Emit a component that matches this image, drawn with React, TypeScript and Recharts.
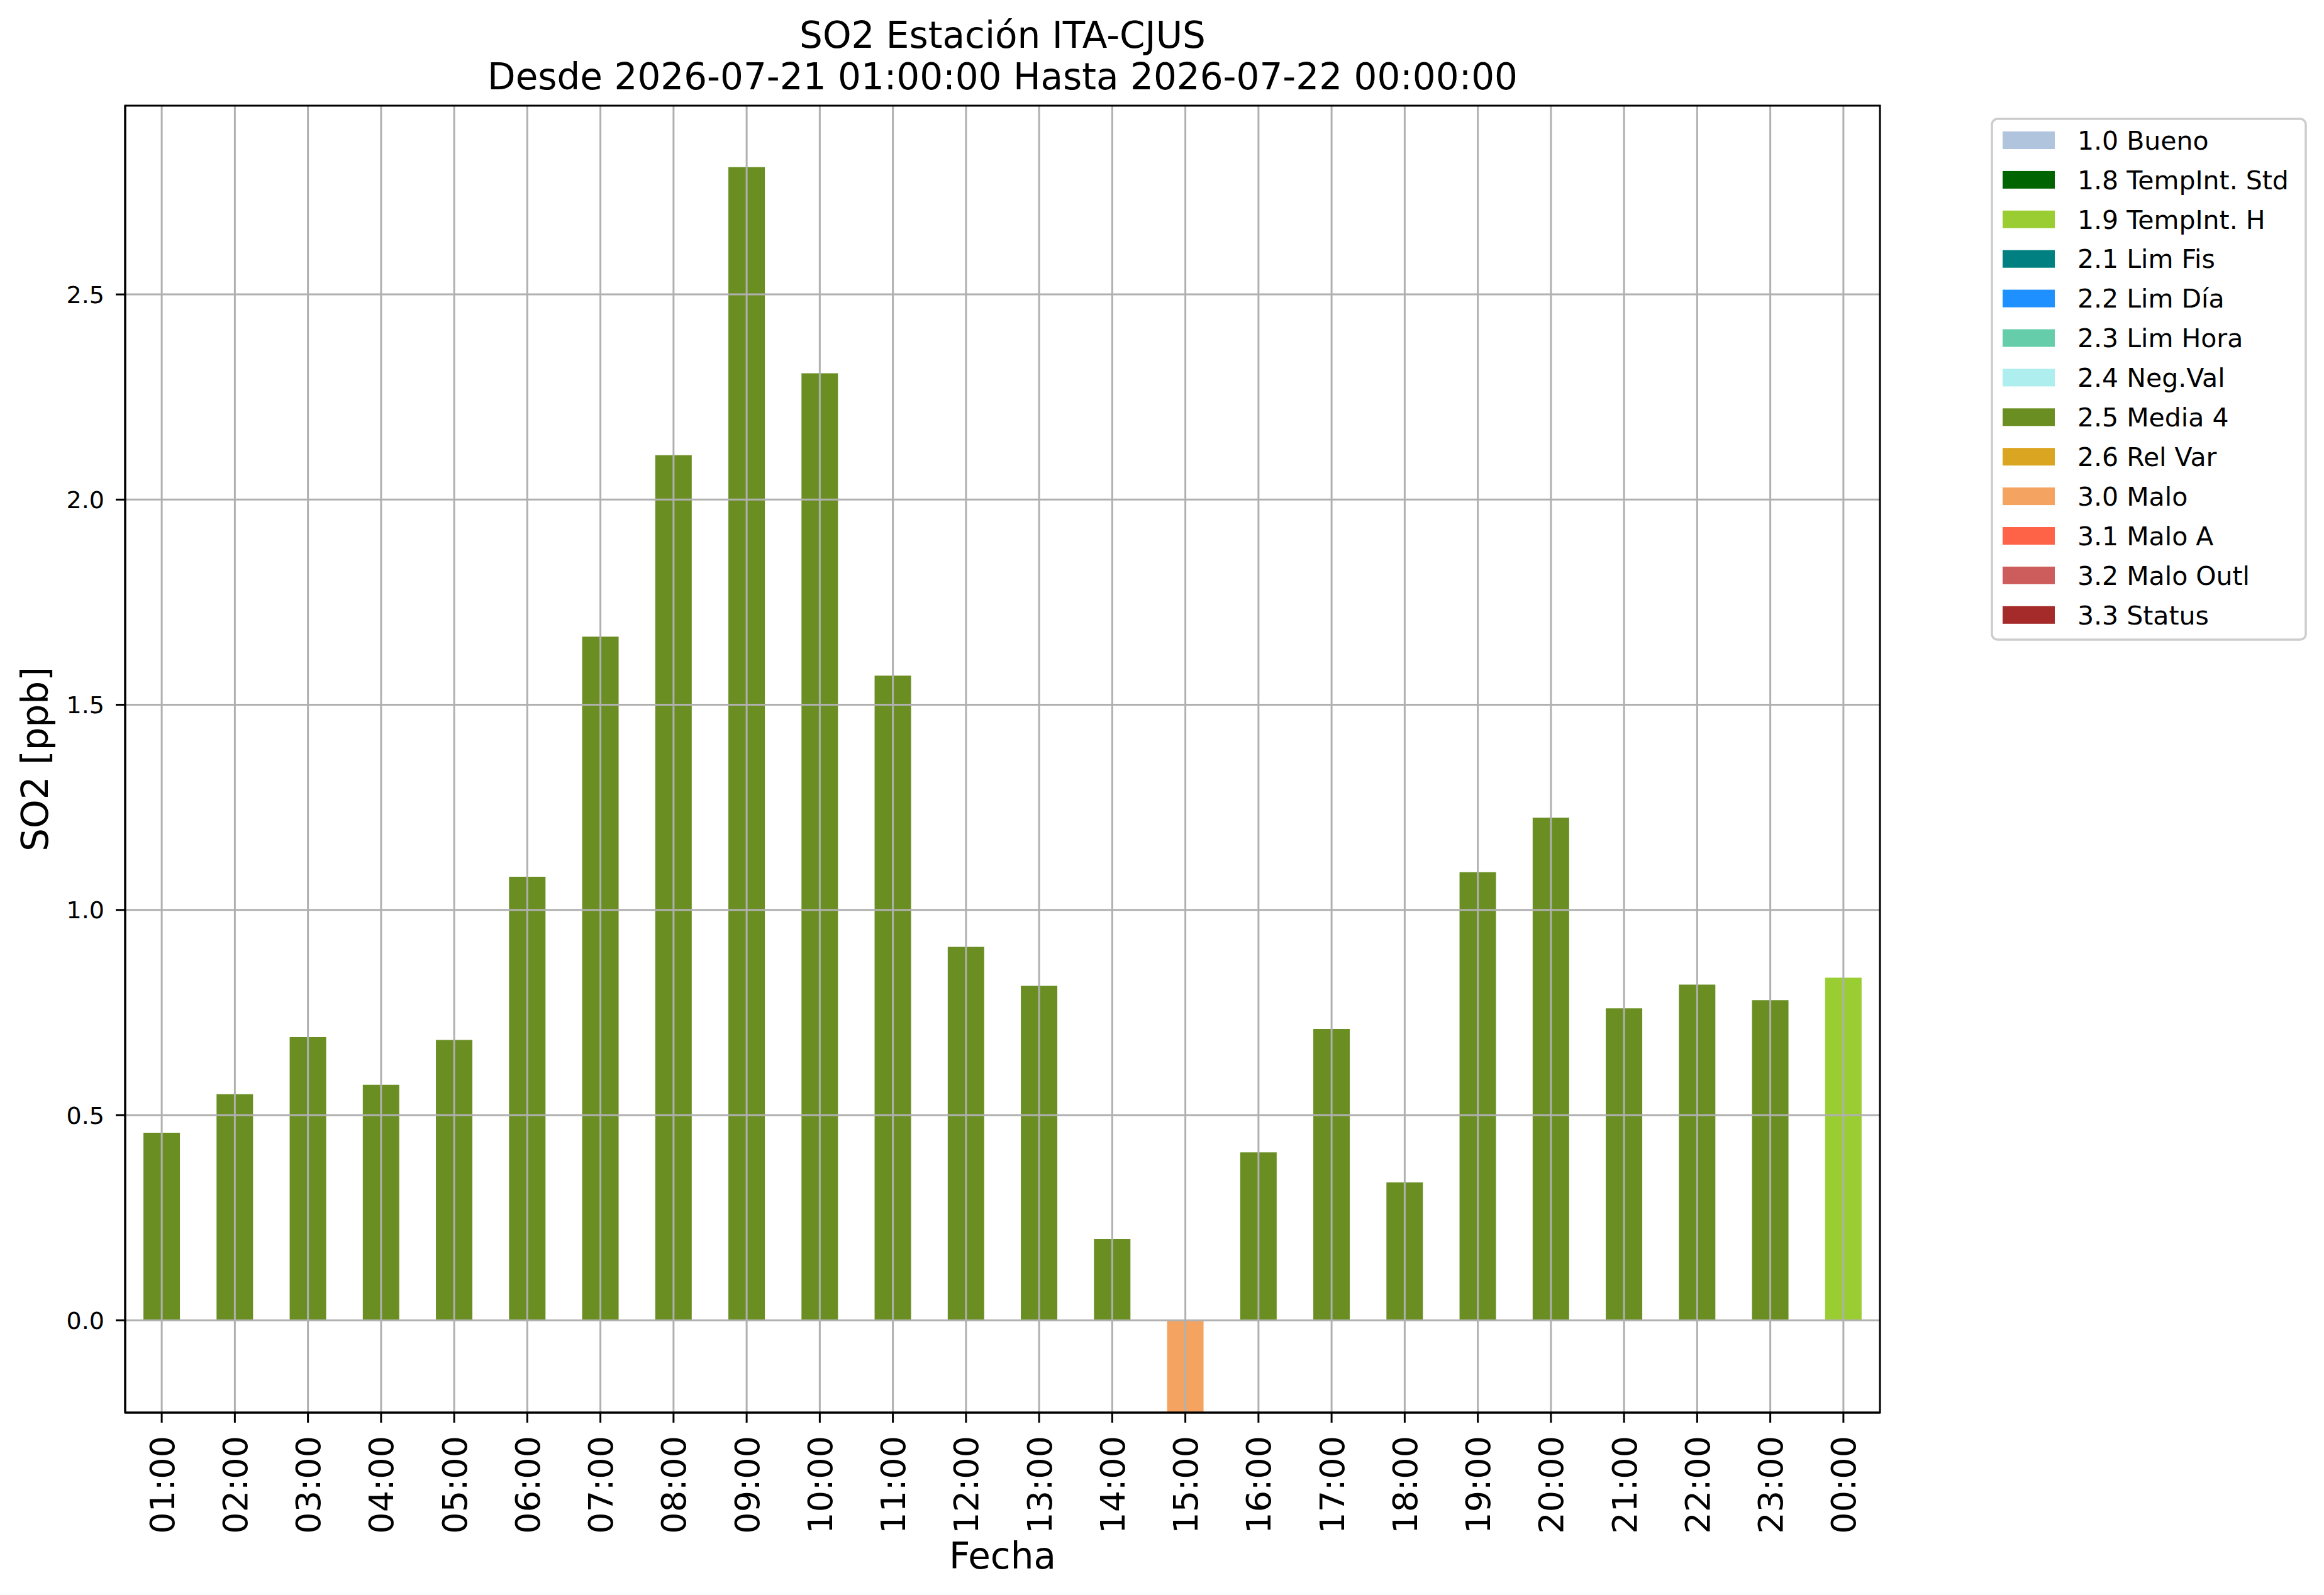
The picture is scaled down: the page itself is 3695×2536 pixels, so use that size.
import React from 'react';
import { BarChart, Bar, XAxis, YAxis, Cell, ReferenceLine } from 'recharts';

const hours = ['01:00','02:00','03:00','04:00','05:00','06:00','07:00','08:00','09:00','10:00','11:00','12:00','13:00','14:00','15:00','16:00','17:00','18:00','19:00','20:00','21:00','22:00','23:00','00:00'];
const so2Values = [0.457,0.551,0.690,0.574,0.683,1.081,1.666,2.108,2.810,2.308,1.571,0.910,0.815,0.198,-0.225,0.409,0.710,0.336,1.092,1.225,0.760,0.818,0.780,0.835];
const flagCodes = ['2.5','2.5','2.5','2.5','2.5','2.5','2.5','2.5','2.5','2.5','2.5','2.5','2.5','2.5','3.0','2.5','2.5','2.5','2.5','2.5','2.5','2.5','2.5','1.9'];

const legendCodes = ['1.0','1.8','1.9','2.1','2.2','2.3','2.4','2.5','2.6','3.0','3.1','3.2','3.3'];
const legendLabels = ['1.0 Bueno','1.8 TempInt. Std','1.9 TempInt. H','2.1 Lim Fis','2.2 Lim Día','2.3 Lim Hora','2.4 Neg.Val','2.5 Media 4','2.6 Rel Var','3.0 Malo','3.1 Malo A','3.2 Malo Outl','3.3 Status'];
const legendColors = ['#B0C4DE','#006400','#9ACD32','#008080','#1E90FF','#66CDAA','#AFEEEE','#6B8E23','#DAA520','#F4A460','#FF6347','#CD5C5C','#A52A2A'];

const yTicks = [0, 0.5, 1.0, 1.5, 2.0, 2.5];
const yDomain = [-0.225, 2.96];

const titleLine1 = 'SO2 Estación ITA-CJUS';
const titleLine2 = 'Desde 2026-07-21 01:00:00 Hasta 2026-07-22 00:00:00';
const xLabel = 'Fecha';
const yLabel = 'SO2 [ppb]';

const FONT = 'DejaVu Sans, sans-serif';

const W = 3695;
const H = 2536;
const PL = 199, PT = 168, PR = 2989, PB = 2246;

const colorOf = (code: string) => legendColors[legendCodes.indexOf(code)];

const data = hours.map((h, i) => ({ hour: h, value: so2Values[i], flag: flagCodes[i] }));

const XTick = (props: any) => {
  const { x, y, payload } = props;
  return (
    <text
      x={x}
      y={y}
      transform={`rotate(-90, ${x}, ${y})`}
      textAnchor="end"
      dy="0.36em"
      fontFamily={FONT}
      fontSize={54}
      fill="#000"
    >
      {payload.value}
    </text>
  );
};

const YTick = (props: any) => {
  const { x, y, payload } = props;
  return (
    <text x={x} y={y} textAnchor="end" dy="0.36em" fontFamily={FONT} fontSize={38} fill="#000">
      {Number(payload.value).toFixed(1)}
    </text>
  );
};

export default function App() {
  const legendTop = 189;
  const rowStart = 223;
  const rowStep = 62.9;
  return (
    <div style={{ position: 'absolute', left: 0, top: 0, width: W, height: H, background: '#fff' }}>
      <BarChart
        width={W}
        height={H}
        data={data}
        margin={{ top: PT, left: 0, right: W - PR, bottom: 0 }}
        barCategoryGap="25%"
      >
        <XAxis
          dataKey="hour"
          type="category"
          height={H - PB}
          interval={0}
          tick={<XTick />}
          tickSize={16}
          tickMargin={21}
          tickLine={{ stroke: '#000', strokeWidth: 3 }}
          axisLine={{ stroke: '#000', strokeWidth: 3 }}
        />
        <YAxis
          type="number"
          domain={yDomain}
          ticks={yTicks}
          allowDataOverflow
          width={PL}
          tick={<YTick />}
          tickSize={15}
          tickMargin={18}
          tickLine={{ stroke: '#000', strokeWidth: 3 }}
          axisLine={{ stroke: '#000', strokeWidth: 3 }}
        />
        <Bar dataKey="value" isAnimationActive={false}>
          {data.map((d, i) => (
            <Cell key={i} fill={colorOf(d.flag)} />
          ))}
        </Bar>
        {hours.map((h) => (
          <ReferenceLine key={'vx' + h} x={h} stroke="#b0b0b0" strokeWidth={3} />
        ))}
        {yTicks.map((t) => (
          <ReferenceLine key={'hy' + t} y={t} stroke="#b0b0b0" strokeWidth={3} />
        ))}
      </BarChart>
      <svg
        width={W}
        height={H}
        style={{ position: 'absolute', left: 0, top: 0, pointerEvents: 'none' }}
      >
        <rect x={PL} y={PT} width={PR - PL} height={PB - PT} fill="none" stroke="#000" strokeWidth={3} />
        <text x={(PL + PR) / 2} y={76} textAnchor="middle" fontFamily={FONT} fontSize={58} fill="#000">
          {titleLine1}
        </text>
        <text x={(PL + PR) / 2} y={142} textAnchor="middle" fontFamily={FONT} fontSize={58} fill="#000">
          {titleLine2}
        </text>
        <text x={(PL + PR) / 2} y={2494} textAnchor="middle" fontFamily={FONT} fontSize={58} fill="#000">
          {xLabel}
        </text>
        <text
          x={76}
          y={(PT + PB) / 2}
          transform={`rotate(-90, 76, ${(PT + PB) / 2})`}
          textAnchor="middle"
          fontFamily={FONT}
          fontSize={58}
          fill="#000"
        >
          {yLabel}
        </text>
        <rect x={3167} y={legendTop} width={499} height={828} rx={9} ry={9} fill="#fff" stroke="#cccccc" strokeWidth={3.5} />
        {legendLabels.map((lab, i) => {
          const cy = rowStart + i * rowStep;
          return (
            <g key={lab}>
              <rect x={3184} y={cy - 14} width={83} height={28} fill={legendColors[i]} />
              <text x={3303} y={cy} dy="0.36em" fontFamily={FONT} fontSize={41} fill="#000">
                {lab}
              </text>
            </g>
          );
        })}
      </svg>
    </div>
  );
}
